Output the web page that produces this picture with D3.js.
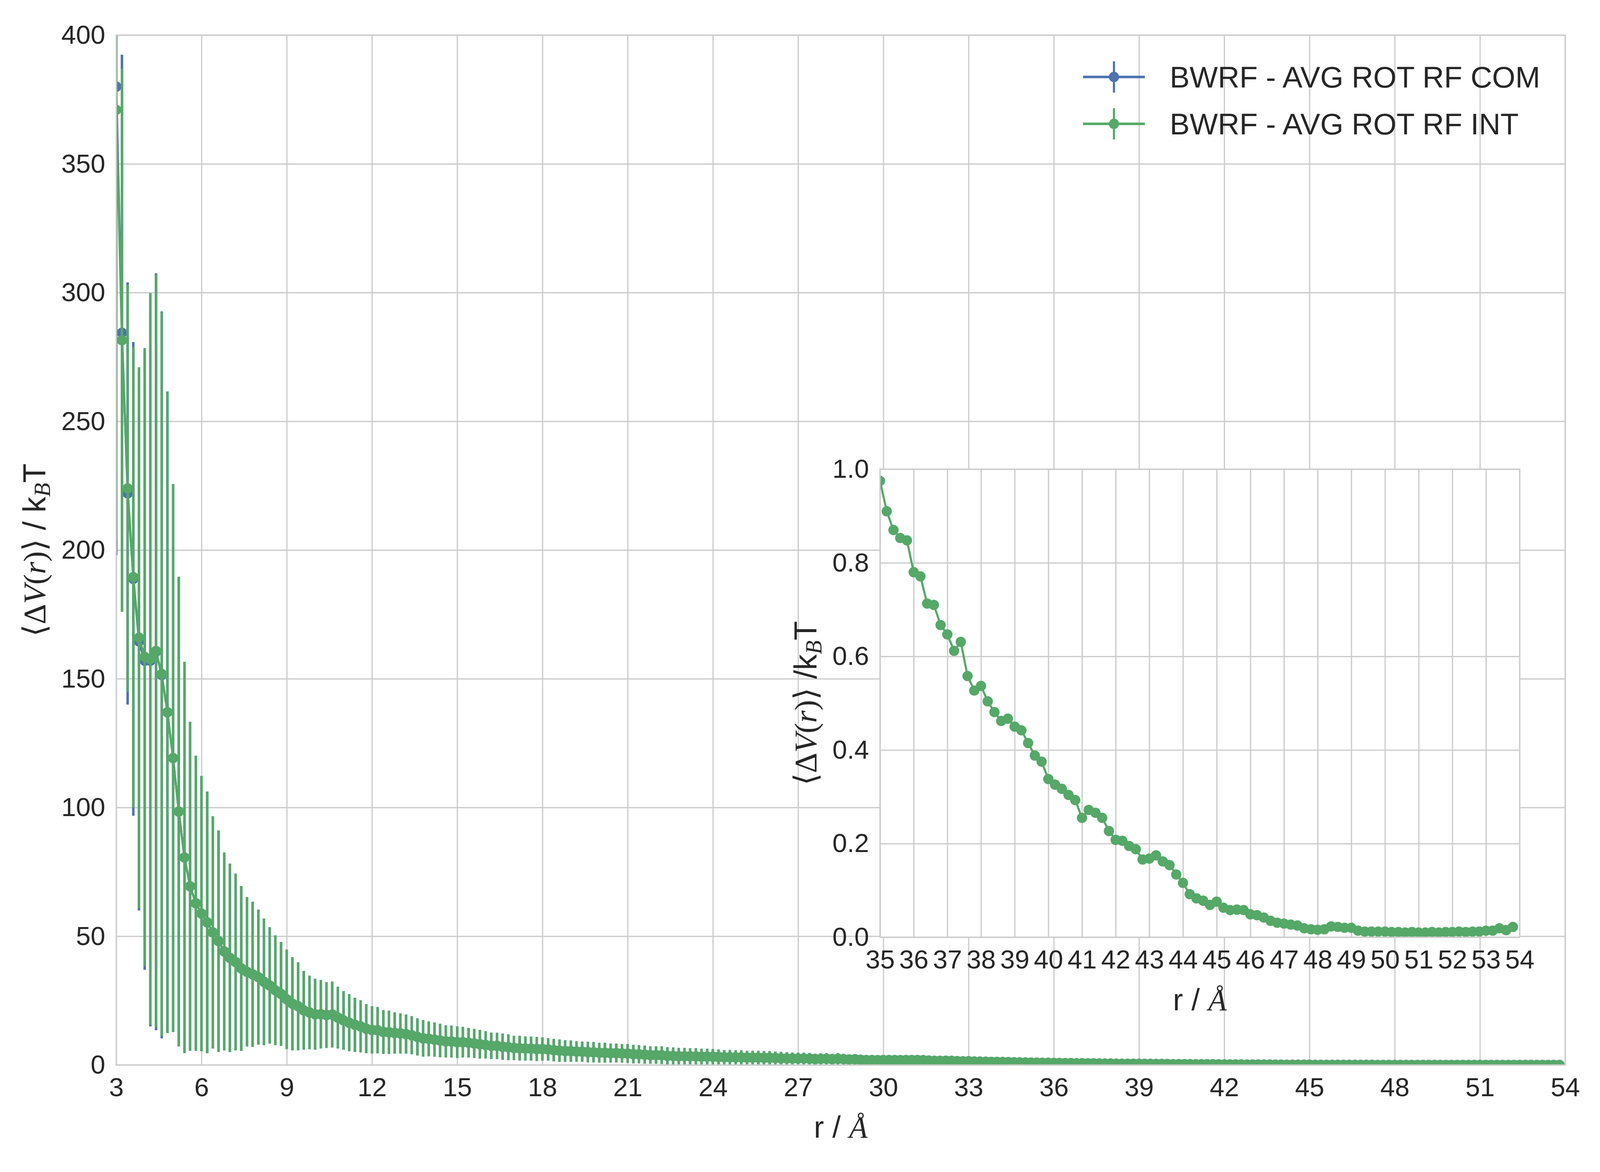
<!DOCTYPE html>
<html>
  <head>
    <meta charset="utf-8" />
    <title>BWRF - AVG ROT RF</title>
    <script src="https://d3js.org/d3.v7.min.js"></script>
    <style>
      html, body { margin: 0; padding: 0; background: #fff; overflow: hidden; }
      svg { display: block; width: 100vw; height: 100vh; }
      text { fill: #262626; }
    </style>
  </head>
  <body>
    <svg></svg>
    <script>
      // r grid: 3.0, 3.2, ... 53.8
      var rStart = 3.0,
        rStep = 0.2;

      // BWRF - AVG ROT RF INT (main + inset)
      var intVal = [
        371, 281.5, 224, 189.5, 166, 158.5, 157.7, 160.8, 151.9, 137,
        119.2, 98.4, 80.6, 69.4, 62.8, 58.8, 55.4, 51.5, 48.1, 44.1,
        41.6, 40, 37.5, 36.2, 35.2, 34.1, 32.3, 30.9, 29, 27.6,
        25.5, 23.8, 22.8, 21.2, 20.4, 19.7, 19.7, 19.4, 19.6, 18.4,
        17.3, 16.4, 15.6, 15, 14.1, 13.6, 13.5, 12.8, 12.7, 12.4,
        12.25, 12, 11.55, 10.9, 10.35, 10.15, 9.85, 9.5, 9.15, 9.1,
        8.85, 8.85, 8.65, 8.35, 8.05, 7.8, 7.45, 7.4, 7.1, 6.9,
        6.6, 6.5, 6.4, 6.35, 6.2, 6.2, 6.05, 5.75, 5.55, 5.4,
        5.35, 5.2, 5.15, 5, 4.95, 4.75, 4.75, 4.6, 4.65, 4.5,
        4.45, 4.2, 4.15, 4, 3.85, 3.85, 3.8, 3.55, 3.5, 3.4,
        3.4, 3.35, 3.35, 3.25, 3.25, 3.2, 3.1, 3, 3, 2.95,
        2.95, 2.85, 2.85, 2.85, 2.8, 2.8, 2.7, 2.6, 2.55, 2.5,
        2.5, 2.5, 2.45, 2.3, 2.35, 2.4, 2.25, 2.4, 2.25, 2.15,
        2.2, 2, 1.9, 1.9, 1.85, 1.9, 1.9, 1.9, 1.85, 1.9,
        1.9, 1.9, 1.85, 1.7, 1.6, 1.6, 1.65, 1.6, 1.5, 1.4,
        1.45, 1.35, 1.3, 1.25, 1.2, 1.2, 1.15, 1.1, 1.05, 1.0,
        0.975, 0.91, 0.87, 0.853, 0.848, 0.78, 0.771, 0.713, 0.71, 0.667,
        0.647, 0.612, 0.631, 0.558, 0.527, 0.537, 0.504, 0.481, 0.462, 0.467,
        0.45, 0.442, 0.415, 0.388, 0.375, 0.338, 0.326, 0.317, 0.304, 0.293,
        0.255, 0.272, 0.266, 0.255, 0.227, 0.208, 0.206, 0.195, 0.188, 0.166,
        0.168, 0.175, 0.162, 0.154, 0.134, 0.116, 0.092, 0.083, 0.078, 0.069,
        0.076, 0.063, 0.058, 0.059, 0.058, 0.049, 0.047, 0.042, 0.035, 0.031,
        0.029, 0.027, 0.025, 0.019, 0.017, 0.016, 0.017, 0.023, 0.022, 0.02,
        0.02, 0.014, 0.012, 0.012, 0.012, 0.012, 0.011, 0.011, 0.01, 0.011,
        0.01, 0.01, 0.011, 0.01, 0.011, 0.011, 0.012, 0.011, 0.012, 0.012,
        0.014, 0.014, 0.019, 0.015, 0.022
      ];
      var intErr = [
        167, 105.5, 79, 89.5, 105, 120, 142.1, 146.2, 140.6, 124.6,
        106.4, 91.2, 76, 63.9, 57.3, 53.5, 50.8, 45.1, 43, 38.4,
        36.6, 34.3, 32, 29, 28.2, 26.2, 24.6, 22.6, 21.3, 20.2,
        19.3, 18.1, 17.1, 15.3, 14.3, 13.8, 13.3, 12.8, 12.8, 12,
        11.4, 11.1, 10.5, 10.1, 9.5, 9.2, 9, 8.5, 8.4, 8,
        7.8, 7.6, 7.4, 7.2, 7.1, 6.75, 6.65, 6.5, 6.25, 6.2,
        6.15, 5.95, 5.75, 5.65, 5.55, 5.3, 5.15, 5.1, 5.1, 5,
        4.7, 4.8, 4.7, 4.65, 4.7, 4.5, 4.35, 4.35, 4.35, 4.2,
        4.15, 4, 3.95, 4, 3.95, 3.85, 3.85, 3.7, 3.65, 3.6,
        3.65, 3.6, 3.55, 3.5, 3.35, 3.35, 3.4, 3.35, 3.3, 3.2,
        3.2, 3.15, 3.15, 3.05, 3.05, 3, 2.9, 2.8, 2.8, 2.75,
        2.75, 2.65, 2.65, 2.65, 2.6, 2.6, 2.5, 2.45, 2.4, 2.3,
        2.25, 2.25, 2.2, 2.1, 2.15, 2.2, 2.05, 2.2, 2.05, 1.95,
        2, 1.85, 1.75, 1.75, 1.7, 1.75, 1.75, 1.75, 1.7, 1.75,
        1.75, 1.75, 1.7, 1.55, 1.5, 1.5, 1.5, 1.45, 1.4, 1.3,
        1.35, 1.25, 1.2, 1.15, 1.1, 1.1, 1.05, 1, 0.97, 0.93,
        0.9, 0.8, 0.77, 0.75, 0.74, 0.69, 0.68, 0.63, 0.62, 0.59,
        0.57, 0.54, 0.55, 0.49, 0.46, 0.47, 0.44, 0.42, 0.41, 0.41,
        0.4, 0.39, 0.37, 0.34, 0.33, 0.3, 0.29, 0.28, 0.27, 0.26,
        0.23, 0.24, 0.24, 0.23, 0.2, 0.19, 0.18, 0.17, 0.17, 0.15,
        0.15, 0.16, 0.14, 0.14, 0.12, 0.1, 0.08, 0.074, 0.069, 0.061,
        0.067, 0.056, 0.052, 0.052, 0.051, 0.044, 0.042, 0.037, 0.031, 0.028,
        0.026, 0.024, 0.022, 0.017, 0.015, 0.014, 0.015, 0.02, 0.019, 0.018,
        0.018, 0.012, 0.011, 0.011, 0.011, 0.011, 0.01, 0.01, 0.009, 0.01,
        0.009, 0.009, 0.01, 0.009, 0.01, 0.01, 0.011, 0.01, 0.011, 0.011,
        0.012, 0.012, 0.017, 0.013, 0.019
      ];

      // BWRF - AVG ROT RF COM: only the first points differ visibly from INT,
      // after 4.6 A it lies under the INT curve
      var comHeadVal = [380, 284.4, 222, 188.8, 164.5, 157, 157, 160.5, 151.5];
      var comHeadErr = [182, 108, 82, 92, 104.5, 120, 142, 147, 141.2];

      var xTicks = [3, 6, 9, 12, 15, 18, 21, 24, 27, 30, 33, 36, 39, 42, 45, 48, 51, 54];
      var yTicks = [0, 50, 100, 150, 200, 250, 300, 350, 400];
      var insetXTicks = [35, 36, 37, 38, 39, 40, 41, 42, 43, 44, 45, 46, 47, 48, 49, 50, 51, 52, 53, 54];
      var insetYTicks = [0, 0.2, 0.4, 0.6, 0.8, 1.0];
      var seriesNames = ["BWRF - AVG ROT RF COM", "BWRF - AVG ROT RF INT"];
      var seriesColors = ["#4c72b0", "#55a868"];

      var sans = "'Liberation Sans', Arial, sans-serif",
        serif = "'Liberation Serif', 'DejaVu Serif', serif",
        gridColor = "#cccccc",
        gridWidth = 3.5,
        markerR = 14.5,
        lineW = 6,
        errW = 7;

      // layout is designed on a 4500 x 3000 canvas; vertical positions
      // follow the real viewport height so the figure always fills the page
      var vw = window.innerWidth || 4500,
        vh = window.innerHeight || 3000;
      var W = 4500,
        H = (W * vh) / vw,
        ky = H / 3000;
      function Y(v) { return v * ky; }

      var svg = d3
        .select("svg")
        .attr("viewBox", "0 0 " + W + " " + H)
        .attr("preserveAspectRatio", "xMidYMid meet");

      function makeSeries(vals, errs) {
        return vals.map(function (v, i) {
          return { r: +(rStart + i * rStep).toFixed(1), v: v, e: errs[i] };
        });
      }
      var intData = makeSeries(intVal, intErr);
      var comData = makeSeries(
        comHeadVal.concat(intVal.slice(comHeadVal.length)),
        comHeadErr.concat(intErr.slice(comHeadErr.length))
      );

      // main axes
      var M = { left: 327, right: 4402, top: Y(90), bottom: Y(2726) };
      var x = d3.scaleLinear().domain([3, 54]).range([M.left, M.right]);
      var y = d3.scaleLinear().domain([0, 400]).range([M.bottom, M.top]);

      // inset axes
      var I = { left: 2475, right: 4274, top: Y(1201), bottom: Y(2399) };
      var xi = d3.scaleLinear().domain([35, 54]).range([I.left, I.right]);
      var yi = d3.scaleLinear().domain([0, 1]).range([I.bottom, I.top]);

      function gridAxes(box, xs, ys, xt, yt, yFmt) {
        var gx = svg
          .append("g")
          .attr("transform", "translate(0," + box.bottom + ")")
          .call(
            d3.axisBottom(xs).tickValues(xt).tickSize(-(box.bottom - box.top)).tickPadding(Y(32))
          );
        var gy = svg
          .append("g")
          .attr("transform", "translate(" + box.left + ",0)")
          .call(
            d3.axisLeft(ys).tickValues(yt).tickFormat(yFmt).tickSize(-(box.right - box.left)).tickPadding(31)
          );
        [gx, gy].forEach(function (g) {
          g.select(".domain").remove();
          g.selectAll("line").attr("stroke", gridColor).attr("stroke-width", gridWidth);
          g.selectAll("text")
            .attr("fill", "#262626")
            .style("font-family", sans)
            .style("font-size", "74px");
        });
      }

      function clip(id, box) {
        svg
          .append("clipPath")
          .attr("id", id)
          .append("rect")
          .attr("x", box.left)
          .attr("y", box.top)
          .attr("width", box.right - box.left)
          .attr("height", box.bottom - box.top);
      }

      function spine(box) {
        svg
          .append("rect")
          .attr("x", box.left)
          .attr("y", box.top)
          .attr("width", box.right - box.left)
          .attr("height", box.bottom - box.top)
          .attr("fill", "none")
          .attr("stroke", gridColor)
          .attr("stroke-width", gridWidth);
      }

      function drawSeries(g, data, xs, ys, color, withErr) {
        if (withErr) {
          g.append("g")
            .selectAll("line")
            .data(data)
            .enter()
            .append("line")
            .attr("x1", function (d) { return xs(d.r); })
            .attr("x2", function (d) { return xs(d.r); })
            .attr("y1", function (d) { return ys(d.v - d.e); })
            .attr("y2", function (d) { return ys(d.v + d.e); })
            .attr("stroke", color)
            .attr("stroke-width", errW);
        }
        g.append("path")
          .datum(data)
          .attr(
            "d",
            d3.line()
              .x(function (d) { return xs(d.r); })
              .y(function (d) { return ys(d.v); })
          )
          .attr("fill", "none")
          .attr("stroke", color)
          .attr("stroke-width", lineW)
          .attr("stroke-linejoin", "round");
        g.append("g")
          .selectAll("circle")
          .data(data)
          .enter()
          .append("circle")
          .attr("cx", function (d) { return xs(d.r); })
          .attr("cy", function (d) { return ys(d.v); })
          .attr("r", markerR)
          .attr("fill", color);
      }

      // main plot
      gridAxes(M, x, y, xTicks, yTicks, d3.format("d"));
      clip("clipMain", M);
      var main = svg.append("g").attr("clip-path", "url(#clipMain)");
      drawSeries(main, comData, x, y, seriesColors[0], true);
      drawSeries(main, intData, x, y, seriesColors[1], true);
      spine(M);

      // inset
      svg
        .append("rect")
        .attr("x", I.left)
        .attr("y", I.top)
        .attr("width", I.right - I.left)
        .attr("height", I.bottom - I.top)
        .attr("fill", "#fff");
      gridAxes(I, xi, yi, insetXTicks, insetYTicks, d3.format(".1f"));
      clip("clipInset", I);
      var inset = svg.append("g").attr("clip-path", "url(#clipInset)");
      drawSeries(
        inset,
        intData.filter(function (d) { return d.r >= 35; }),
        xi,
        yi,
        seriesColors[1],
        false
      );
      spine(I);

      // legend
      var legend = svg
        .append("g")
        .selectAll("g")
        .data(seriesNames)
        .enter()
        .append("g")
        .attr("transform", function (d, i) { return "translate(3133," + Y(197 + i * 120) + ")"; });
      legend.append("line")
        .attr("x1", -87).attr("x2", 87)
        .attr("stroke", function (d, i) { return seriesColors[i]; })
        .attr("stroke-width", lineW + 1);
      legend.append("line")
        .attr("y1", -44).attr("y2", 44)
        .attr("stroke", function (d, i) { return seriesColors[i]; })
        .attr("stroke-width", errW - 1);
      legend.append("circle")
        .attr("r", markerR)
        .attr("fill", function (d, i) { return seriesColors[i]; });
      legend.append("text")
        .attr("x", 157)
        .attr("y", 30)
        .style("font-family", sans)
        .style("font-size", "84px")
        .text(function (d) { return d; });

      // labels with math parts
      function richText(sel, parts) {
        parts.forEach(function (p) {
          var t = sel.append("tspan").text(p.t);
          if (p.math) t.style("font-family", serif);
          if (p.it) t.style("font-style", "italic");
          if (p.size) t.style("font-size", p.size);
          if (p.dy) t.attr("dy", p.dy);
        });
      }
      function vLabelParts(sep) {
        return [
          { t: "\u27E8", math: 1 },
          { t: "\u0394", math: 1 },
          { t: "V", math: 1, it: 1 },
          { t: "(", math: 1 },
          { t: "r", math: 1, it: 1 },
          { t: ")", math: 1 },
          { t: "\u27E9", math: 1 },
          { t: sep + "k" },
          { t: "B", math: 1, it: 1, size: "64px", dy: 14 },
          { t: "T", dy: -14 }
        ];
      }
      var rParts = [{ t: "r / " }, { t: "\u00C5", math: 1, it: 1 }];

      var yLab = svg
        .append("text")
        .attr("transform", "translate(127," + (M.top + M.bottom) / 2 + ") rotate(-90)")
        .attr("text-anchor", "middle")
        .style("font-family", sans)
        .style("font-size", "89px");
      richText(yLab, vLabelParts(" / "));

      var xLab = svg
        .append("text")
        .attr("x", (M.left + M.right) / 2)
        .attr("y", Y(2912))
        .attr("text-anchor", "middle")
        .style("font-family", sans)
        .style("font-size", "85px");
      richText(xLab, rParts);

      var yiLab = svg
        .append("text")
        .attr("transform", "translate(2296," + (I.top + I.bottom) / 2 + ") rotate(-90)")
        .attr("text-anchor", "middle")
        .style("font-family", sans)
        .style("font-size", "89px");
      richText(yiLab, vLabelParts(" /"));

      var xiLab = svg
        .append("text")
        .attr("x", (I.left + I.right) / 2)
        .attr("y", Y(2586))
        .attr("text-anchor", "middle")
        .style("font-family", sans)
        .style("font-size", "85px");
      richText(xiLab, rParts);
    </script>
  </body>
</html>
